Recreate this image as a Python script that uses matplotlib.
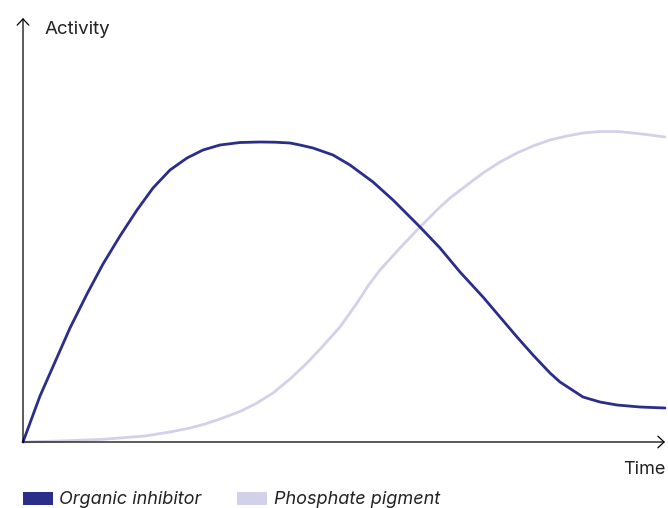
import matplotlib
matplotlib.use("Agg")
import matplotlib.pyplot as plt
from matplotlib.patches import Patch

# Data (arbitrary time / activity units, origin at 0)
inhib_x = [0, 17, 32, 47, 64, 80, 97, 114, 130, 147, 164, 180, 197, 217, 237, 252, 267, 277, 290, 310,
           327, 350, 370, 397, 417, 437, 460, 477, 494, 510, 527, 537, 560, 577, 594, 617, 642]
inhib_y = [0, 46, 80, 114, 148, 178, 206, 232, 254, 272, 284, 292, 297, 299.5, 300, 299.8, 299, 297, 294, 287,
           277, 260, 242, 215, 194, 170, 145, 125, 105, 87, 69, 60, 45, 40, 37, 35, 34]

pig_x = [0, 37, 77, 97, 122, 147, 167, 182, 197, 217, 234, 250, 267, 284, 300, 317, 334, 345, 357, 377,
         397, 417, 427, 444, 460, 477, 494, 510, 527, 544, 560, 577, 594, 610, 627, 642]
pig_y = [0, 1, 2.5, 4, 6, 10, 14, 18, 23, 30.5, 39, 49, 63, 79, 96, 115, 139, 156, 172, 194,
         215, 235, 244, 257, 269, 280, 289, 296, 302, 306, 309, 310.5, 310.5, 309, 307, 305]

series_names = ["Organic inhibitor", "Phosphate pigment"]
colors = ["#2b2d8a", "#d3d1ea"]

plt.rcParams['font.family'] = ['Inter', 'DejaVu Sans']

W, H = 668, 508
fig = plt.figure(figsize=(W / 100, H / 100), dpi=100)
ax = fig.add_axes([23 / W, (H - 442) / H, 642 / W, 424 / H])
ax.set_xlim(0, 642)
ax.set_ylim(0, 424)
for s in ax.spines.values():
    s.set_visible(False)
ax.set_xticks([])
ax.set_yticks([])

ax.plot(pig_x, pig_y, color=colors[1], lw=2.0, solid_capstyle='round', solid_joinstyle='round', clip_on=False)
ax.plot(inhib_x, inhib_y, color=colors[0], lw=2.0, solid_capstyle='round', solid_joinstyle='round', clip_on=False)

# axes arrows
astyle = "->,head_length=0.45,head_width=0.42"
ax.annotate("", xy=(1, 0), xytext=(0, 0), xycoords='axes fraction',
            arrowprops=dict(arrowstyle=astyle, color="black", lw=0.9, shrinkA=0, shrinkB=0))
ax.annotate("", xy=(0, 1), xytext=(0, 0), xycoords='axes fraction',
            arrowprops=dict(arrowstyle=astyle, color="black", lw=0.9, shrinkA=0, shrinkB=0))

fig.text(45 / W, 1 - 29 / H, "Activity", fontsize=13.5, color="#222222", va='center', ha='left')
fig.text(666 / W, 1 - 469 / H, "Time", fontsize=13, color="#222222", va='center', ha='right')

handles = [Patch(facecolor=c, edgecolor='none') for c in colors]
leg = fig.legend(handles, series_names, loc='center left', bbox_to_anchor=(23 / W, 1 - 500 / H),
                 ncol=2, frameon=False, handlelength=1.65, handleheight=0.75,
                 handletextpad=0.35, columnspacing=2.0, borderpad=0, borderaxespad=0,
                 prop={'style': 'italic', 'size': 13})
for t in leg.get_texts():
    t.set_color("#222222")

fig.savefig("out.png", dpi=100)
